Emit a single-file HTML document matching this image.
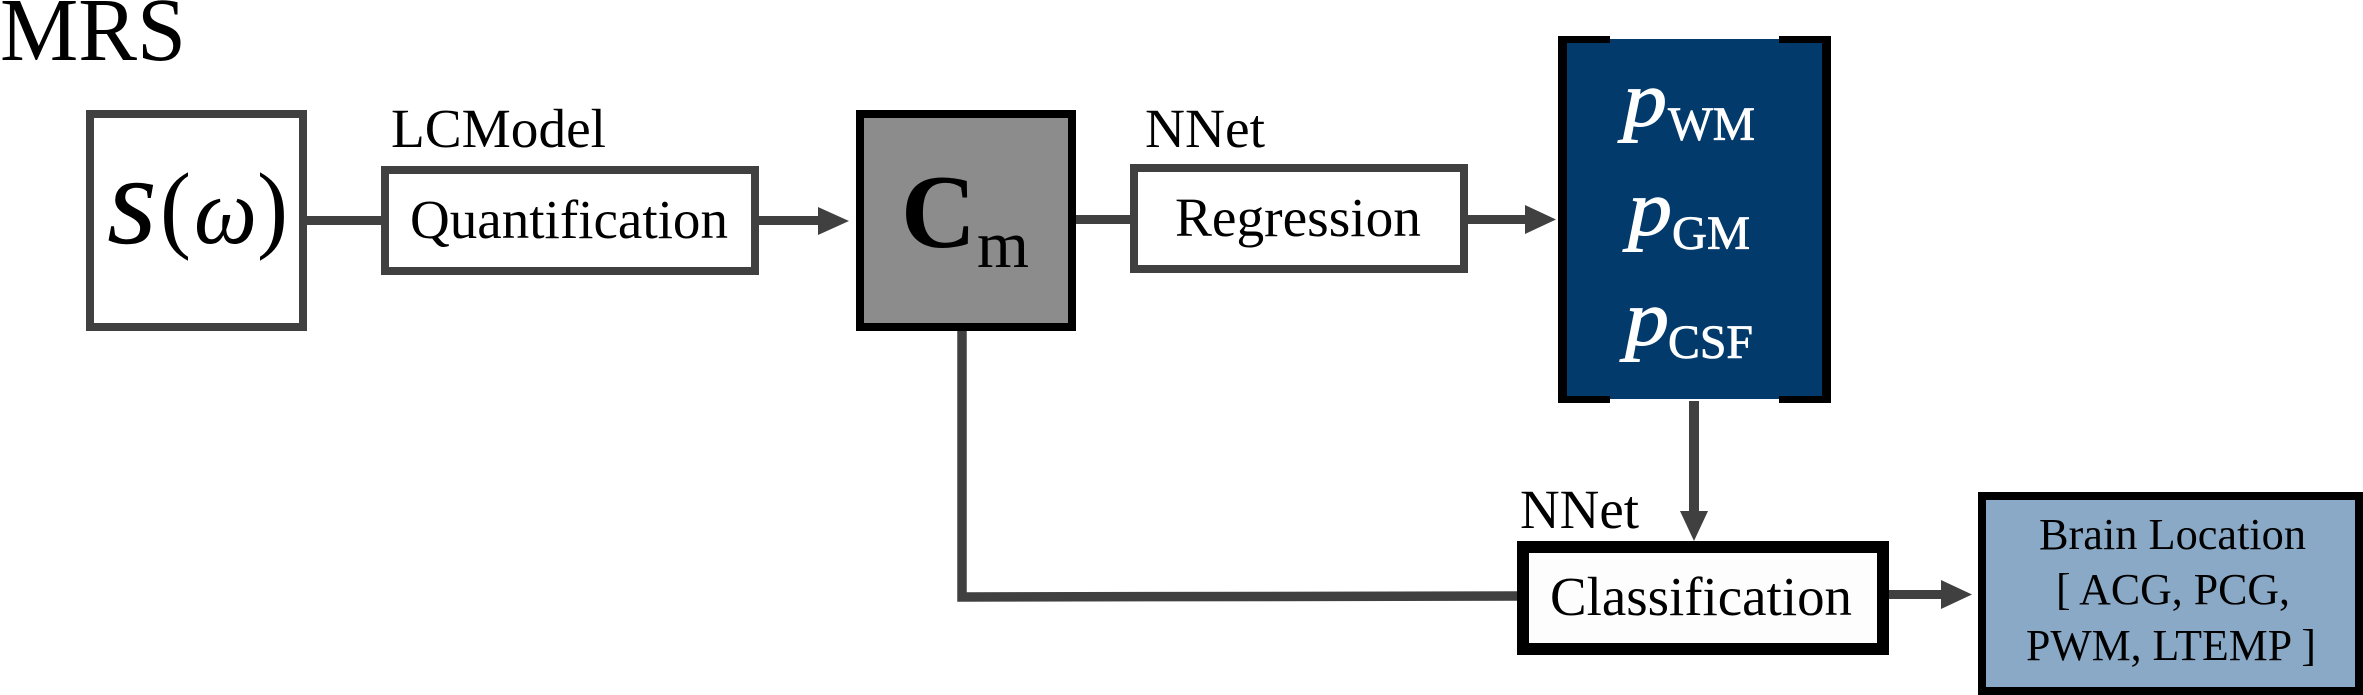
<!DOCTYPE html>
<html>
<head>
<meta charset="utf-8">
<style>
html,body{margin:0;padding:0;background:#fff;}
svg{display:block;}
text{font-family:"Liberation Serif",serif;fill:#000;}
</style>
</head>
<body>
<svg width="2363" height="695" viewBox="0 0 2363 695" xmlns="http://www.w3.org/2000/svg">
<rect width="2363" height="695" fill="#fff"/>
<!-- connectors -->
<g fill="#404040">
<rect x="304" y="216" width="80" height="9"/>
<rect x="757" y="216" width="62" height="9"/>
<polygon points="818,207 849,221 818,235"/>
<rect x="1074" y="215" width="58" height="9"/>
<rect x="1464" y="215" width="62" height="9"/>
<polygon points="1525,205 1556,219.5 1525,234"/>
<rect x="1689" y="401" width="10" height="111"/>
<polygon points="1680,511 1708,511 1694,541"/>
<rect x="1885" y="590" width="57" height="9"/>
<polygon points="1941,580 1972,594.5 1941,609"/>
</g>
<polyline points="962,329 962,597 1520,596" fill="none" stroke="#404040" stroke-width="9.5"/>

<!-- boxes -->
<rect x="90" y="114" width="213" height="213" fill="#fff" stroke="#404040" stroke-width="8"/>
<rect x="385" y="170" width="370" height="101" fill="#fff" stroke="#404040" stroke-width="8"/>
<rect x="860" y="114" width="212" height="213" fill="#8c8c8c" stroke="#000" stroke-width="8"/>
<rect x="1134" y="168" width="330" height="101" fill="#fff" stroke="#404040" stroke-width="8"/>

<!-- blue box -->
<rect x="1558" y="39" width="273" height="360" fill="#023a6b"/>
<g fill="#000">
<rect x="1558" y="36" width="9" height="367"/>
<rect x="1822" y="36" width="9" height="367"/>
<rect x="1558" y="36" width="52" height="7"/>
<rect x="1779" y="36" width="52" height="7"/>
<rect x="1558" y="396" width="52" height="7"/>
<rect x="1779" y="396" width="52" height="7"/>
</g>

<rect x="1523" y="547" width="360" height="102" fill="#fdfdfd" stroke="#000" stroke-width="12"/>
<rect x="1982" y="496" width="377" height="195" fill="#8aa9c6" stroke="#000" stroke-width="8"/>
<rect x="1978" y="687" width="385" height="8" fill="#000"/>

<!-- labels -->
<text x="0" y="60" font-size="90" textLength="186" lengthAdjust="spacingAndGlyphs">MRS</text>
<text x="391" y="147" font-size="55" textLength="215" lengthAdjust="spacingAndGlyphs">LCModel</text>
<text x="410" y="238" font-size="55" textLength="318" lengthAdjust="spacingAndGlyphs">Quantification</text>
<text x="1145" y="147" font-size="55" textLength="120" lengthAdjust="spacingAndGlyphs">NNet</text>
<text x="1175" y="236" font-size="55" textLength="246" lengthAdjust="spacingAndGlyphs">Regression</text>
<text x="1520" y="528" font-size="55" textLength="119" lengthAdjust="spacingAndGlyphs">NNet</text>
<text x="1550" y="615" font-size="55" textLength="302" lengthAdjust="spacingAndGlyphs">Classification</text>

<text x="107" y="243" font-size="128" font-style="italic" textLength="50" lengthAdjust="spacingAndGlyphs">s</text>
<text x="160" y="240" font-size="98" textLength="31" lengthAdjust="spacingAndGlyphs">(</text>
<text x="194" y="243" font-size="94" font-style="italic" textLength="63" lengthAdjust="spacingAndGlyphs">ω</text>
<text x="257" y="240" font-size="98" textLength="31" lengthAdjust="spacingAndGlyphs">)</text>

<text x="901" y="247" font-size="105" font-weight="bold" textLength="75" lengthAdjust="spacingAndGlyphs">C</text>
<text x="977" y="267" font-size="67" textLength="52" lengthAdjust="spacingAndGlyphs">m</text>

<g>
<text x="1623" y="126" font-size="78" font-style="italic" style="fill:#fff;stroke:#fff;stroke-width:1" textLength="44" lengthAdjust="spacingAndGlyphs">p</text>
<text x="1668" y="140" font-size="48" style="fill:#fff;stroke:#fff;stroke-width:.8" textLength="87" lengthAdjust="spacingAndGlyphs">WM</text>
<text x="1628" y="235" font-size="78" font-style="italic" style="fill:#fff;stroke:#fff;stroke-width:1" textLength="44" lengthAdjust="spacingAndGlyphs">p</text>
<text x="1672" y="249" font-size="48" style="fill:#fff;stroke:#fff;stroke-width:.8" textLength="78" lengthAdjust="spacingAndGlyphs">GM</text>
<text x="1625" y="345" font-size="78" font-style="italic" style="fill:#fff;stroke:#fff;stroke-width:1" textLength="44" lengthAdjust="spacingAndGlyphs">p</text>
<text x="1668" y="358" font-size="48" style="fill:#fff;stroke:#fff;stroke-width:.8" textLength="85" lengthAdjust="spacingAndGlyphs">CSF</text>
</g>

<text x="2039" y="549" font-size="44.3" textLength="267" lengthAdjust="spacingAndGlyphs">Brain Location</text>
<text x="2056" y="604" font-size="44.3" textLength="234" lengthAdjust="spacingAndGlyphs">[ ACG, PCG,</text>
<text x="2026" y="660" font-size="44.3" textLength="290" lengthAdjust="spacingAndGlyphs">PWM, LTEMP ]</text>
</svg>
</body>
</html>
